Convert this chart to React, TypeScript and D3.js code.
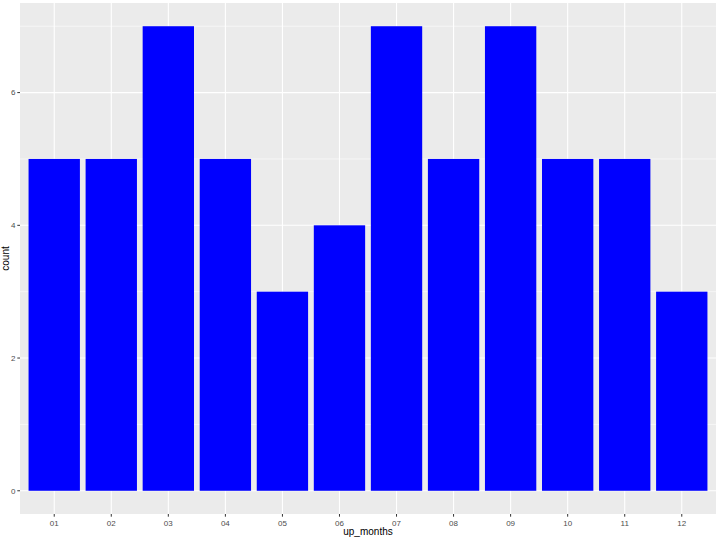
import React from "react";
import * as d3 from "d3";

const categories = ["01", "02", "03", "04", "05", "06", "07", "08", "09", "10", "11", "12"];
const counts = [5, 5, 7, 5, 3, 4, 7, 5, 7, 5, 5, 3];
const yTicks = [0, 2, 4, 6];
const yMinor = [1, 3, 5, 7];

export default function App() {
  const W = 720, H = 540;
  const left = 20, right = 716, top = 3, bottom = 514;
  const n = categories.length;
  const x = d3.scaleLinear().domain([0.4, n + 0.6]).range([left, right]);
  const y = d3.scaleLinear().domain([-0.35, 7.35]).range([bottom, top]);
  const font = "Liberation Sans, Arial, sans-serif";
  return (
    <svg width={W} height={H} style={{ position: "absolute", left: 0, top: 0, background: "#fff" }}>
      <rect x={left} y={top} width={right - left} height={bottom - top} fill="#EBEBEB" />
      {yMinor.map((v) => (
        <line key={"mn" + v} x1={left} x2={right} y1={y(v)} y2={y(v)} stroke="#fff" strokeWidth={0.55} />
      ))}
      {yTicks.map((v) => (
        <line key={"mj" + v} x1={left} x2={right} y1={y(v)} y2={y(v)} stroke="#fff" strokeWidth={1.1} />
      ))}
      {categories.map((c, i) => (
        <line key={"vx" + c} x1={x(i + 1)} x2={x(i + 1)} y1={top} y2={bottom} stroke="#fff" strokeWidth={1.1} />
      ))}
      {counts.map((v, i) => (
        <rect key={"b" + i} x={x(i + 1 - 0.45)} width={x(i + 1 + 0.45) - x(i + 1 - 0.45)} y={y(v)} height={y(0) - y(v)} fill="#0000FF" />
      ))}
      {yTicks.map((v) => (
        <g key={"yt" + v}>
          <line x1={left - 2.7} x2={left} y1={y(v)} y2={y(v)} stroke="#333" strokeWidth={1} />
          <text x={left - 4.5} y={y(v)} dy="0.35em" textAnchor="end" fontSize={8} fill="#4D4D4D" fontFamily={font}>{v}</text>
        </g>
      ))}
      {categories.map((c, i) => (
        <g key={"xt" + c}>
          <line x1={x(i + 1)} x2={x(i + 1)} y1={bottom} y2={bottom + 2.7} stroke="#333" strokeWidth={1} />
          <text x={x(i + 1)} y={bottom + 12} textAnchor="middle" fontSize={8} fill="#4D4D4D" fontFamily={font}>{c}</text>
        </g>
      ))}
      <text x={(left + right) / 2} y={535} textAnchor="middle" fontSize={10} fill="#000" fontFamily={font}>up_months</text>
      <text transform={`translate(9,${(top + bottom) / 2}) rotate(-90)`} textAnchor="middle" fontSize={10} fill="#000" fontFamily={font}>count</text>
    </svg>
  );
}
